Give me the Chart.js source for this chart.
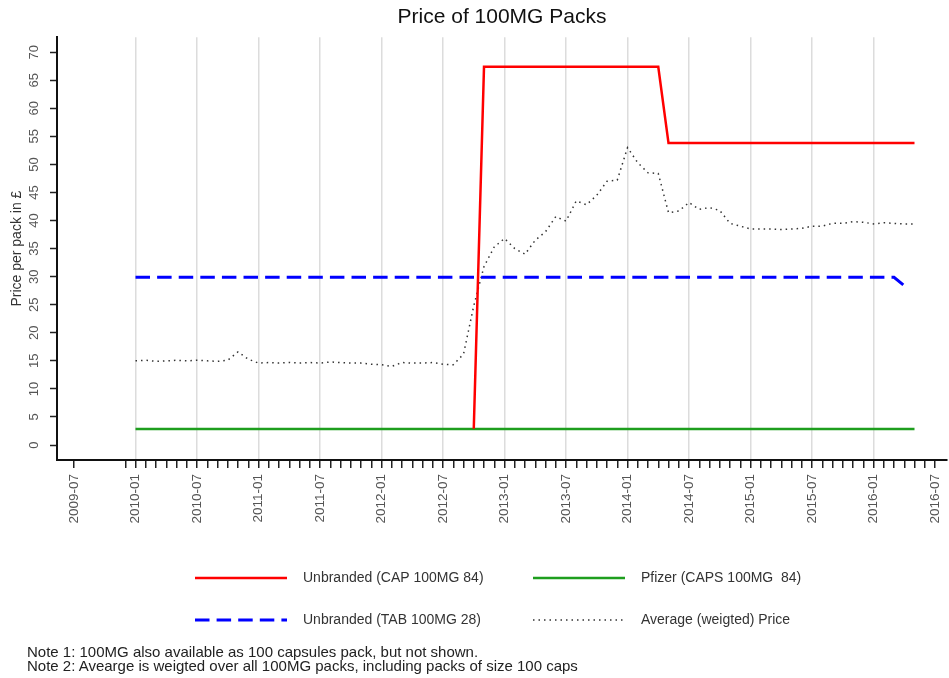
<!DOCTYPE html>
<html>
<head>
<meta charset="utf-8">
<script src="https://cdn.jsdelivr.net/npm/chart.js@4.4.1/dist/chart.umd.min.js"></script>
<style>
  body { margin: 0; background: #fff; }
  #wrap { position: relative; width: 949px; height: 678px; }
  .note { position: absolute; left: 27px; font: 15px "Liberation Sans", Arial, sans-serif; color: #222; white-space: pre; line-height: 14px; }
</style>
</head>
<body>
<div id="wrap">
  <canvas id="priceChart" width="949" height="678"></canvas>
  <div class="note" style="top:645px">Note 1: 100MG also available as 100 capsules pack, but not shown.</div>
  <div class="note" style="top:659px">Note 2: Avearge is weigted over all 100MG packs, including packs of size 100 caps</div>
</div>
<script>
// monthly observations, 2010-01 .. 2016-05
const months = [
  '2010-01','2010-02','2010-03','2010-04','2010-05','2010-06','2010-07','2010-08','2010-09','2010-10','2010-11','2010-12',
  '2011-01','2011-02','2011-03','2011-04','2011-05','2011-06','2011-07','2011-08','2011-09','2011-10','2011-11','2011-12',
  '2012-01','2012-02','2012-03','2012-04','2012-05','2012-06','2012-07','2012-08','2012-09','2012-10','2012-11','2012-12',
  '2013-01','2013-02','2013-03','2013-04','2013-05','2013-06','2013-07','2013-08','2013-09','2013-10','2013-11','2013-12',
  '2014-01','2014-02','2014-03','2014-04','2014-05','2014-06','2014-07','2014-08','2014-09','2014-10','2014-11','2014-12',
  '2015-01','2015-02','2015-03','2015-04','2015-05','2015-06','2015-07','2015-08','2015-09','2015-10','2015-11','2015-12',
  '2016-01','2016-02','2016-03','2016-04','2016-05'
];

const capUnbranded = [
  null, null, null, null, null, null, null, null, null, null, null, null,
  null, null, null, null, null, null, null, null, null, null, null, null,
  null, null, null, null, null, null, null, null, null, 2.9, 67.4, 67.4,
  67.4, 67.4, 67.4, 67.4, 67.4, 67.4, 67.4, 67.4, 67.4, 67.4, 67.4, 67.4,
  67.4, 67.4, 67.4, 67.4, 53.8, 53.8, 53.8, 53.8, 53.8, 53.8, 53.8, 53.8,
  53.8, 53.8, 53.8, 53.8, 53.8, 53.8, 53.8, 53.8, 53.8, 53.8, 53.8, 53.8,
  53.8, 53.8, 53.8, 53.8, 53.8
];

const capsPfizer = [
  2.85, 2.85, 2.85, 2.85, 2.85, 2.85, 2.85, 2.85, 2.85, 2.85, 2.85, 2.85,
  2.85, 2.85, 2.85, 2.85, 2.85, 2.85, 2.85, 2.85, 2.85, 2.85, 2.85, 2.85,
  2.85, 2.85, 2.85, 2.85, 2.85, 2.85, 2.85, 2.85, 2.85, 2.85, 2.85, 2.85,
  2.85, 2.85, 2.85, 2.85, 2.85, 2.85, 2.85, 2.85, 2.85, 2.85, 2.85, 2.85,
  2.85, 2.85, 2.85, 2.85, 2.85, 2.85, 2.85, 2.85, 2.85, 2.85, 2.85, 2.85,
  2.85, 2.85, 2.85, 2.85, 2.85, 2.85, 2.85, 2.85, 2.85, 2.85, 2.85, 2.85,
  2.85, 2.85, 2.85, 2.85, 2.85
];

const tabUnbranded = [
  29.9, 29.9, 29.9, 29.9, 29.9, 29.9, 29.9, 29.9, 29.9, 29.9, 29.9, 29.9,
  29.9, 29.9, 29.9, 29.9, 29.9, 29.9, 29.9, 29.9, 29.9, 29.9, 29.9, 29.9,
  29.9, 29.9, 29.9, 29.9, 29.9, 29.9, 29.9, 29.9, 29.9, 29.9, 29.9, 29.9,
  29.9, 29.9, 29.9, 29.9, 29.9, 29.9, 29.9, 29.9, 29.9, 29.9, 29.9, 29.9,
  29.9, 29.9, 29.9, 29.9, 29.9, 29.9, 29.9, 29.9, 29.9, 29.9, 29.9, 29.9,
  29.9, 29.9, 29.9, 29.9, 29.9, 29.9, 29.9, 29.9, 29.9, 29.9, 29.9, 29.9,
  29.9, 29.9, 29.9, 28.4, null
];

const avgWeighted = [
  15.0, 15.1, 14.9, 15.0, 15.1, 15.0, 15.1, 15.0, 14.9, 15.1, 16.6, 15.3,
  14.6, 14.7, 14.6, 14.7, 14.6, 14.7, 14.6, 14.8, 14.7, 14.6, 14.6, 14.4,
  14.3, 14.0, 14.7, 14.6, 14.6, 14.7, 14.4, 14.3, 16.2, 24.8, 31.8, 35.3,
  36.8, 35.0, 34.0, 36.5, 38.0, 40.7, 39.9, 43.5, 42.8, 44.5, 47.0, 47.2,
  53.0, 50.3, 48.5, 48.4, 41.4, 41.7, 43.2, 42.0, 42.3, 41.8, 39.5, 39.0,
  38.5, 38.5, 38.5, 38.4, 38.5, 38.6, 39.0, 39.0, 39.5, 39.5, 39.8, 39.7,
  39.4, 39.6, 39.5, 39.4, 39.4
];

const xTickLabels = ['2009-07','2010-01','2010-07','2011-01','2011-07','2012-01','2012-07',
  '2013-01','2013-07','2014-01','2014-07','2015-01','2015-07','2016-01','2016-07'];
const yTicks = [0, 5, 10, 15, 20, 25, 30, 35, 40, 45, 50, 55, 60, 65, 70];

// months counted from 2009-07
function monthIndex(s) {
  const [y, m] = s.split('-').map(Number);
  return (y - 2009) * 12 + (m - 7);
}
function points(values) {
  return values.map((v, i) => ({ x: monthIndex(months[i]), y: v }));
}

const labelIdx = xTickLabels.map(monthIndex);
const tickMarks = [0];
for (let m = 5; m <= 84; m++) tickMarks.push(m);

const FONT = '"Liberation Sans", Arial, sans-serif';
Chart.defaults.font.family = FONT;

const legendRows = {
  id: 'legendRows',
  afterDraw(chart) {
    const ctx = chart.ctx;
    const spots = [[195, 578], [533, 578], [195, 620], [533, 620]];
    chart.data.datasets.forEach((ds, i) => {
      const [x, y] = spots[i];
      ctx.save();
      ctx.strokeStyle = ds.borderColor;
      ctx.lineWidth = ds.borderWidth;
      ctx.setLineDash(ds.borderDash || []);
      ctx.beginPath();
      ctx.moveTo(x, y);
      ctx.lineTo(x + 92, y);
      ctx.stroke();
      ctx.setLineDash([]);
      ctx.fillStyle = '#333';
      ctx.font = '14px ' + FONT;
      ctx.textBaseline = 'middle';
      ctx.fillText(ds.label, x + 108, y);
      ctx.restore();
    });
  }
};

const ctx = document.getElementById('priceChart').getContext('2d');
const chart = new Chart(ctx, {
  type: 'line',
  data: {
    datasets: [
      { label: 'Unbranded (CAP 100MG 84)', data: points(capUnbranded), borderColor: '#ff0000', borderWidth: 2.5 },
      { label: 'Pfizer (CAPS 100MG  84)', data: points(capsPfizer), borderColor: '#1e9e1e', borderWidth: 2.5 },
      { label: 'Unbranded (TAB 100MG 28)', data: points(tabUnbranded), borderColor: '#0000ff', borderWidth: 3, borderDash: [14.5, 7.1] },
      { label: 'Average (weigted) Price', data: points(avgWeighted), borderColor: '#333333', borderWidth: 1.5, borderDash: [1.5, 4] }
    ]
  },
  options: {
    responsive: false,
    animation: false,
    elements: { point: { radius: 0 }, line: { tension: 0 } },
    layout: { padding: { left: 0, right: 2, top: 0, bottom: 0 } },
    plugins: {
      legend: { display: false },
      tooltip: { enabled: false },
      title: {
        display: true,
        text: 'Price of 100MG Packs',
        fullSize: false,
        color: '#111',
        font: { size: 21, weight: 'normal' },
        padding: { top: 5, bottom: 7 }
      }
    },
    scales: {
      x: {
        type: 'linear',
        min: -1.66,
        max: 85.17,
        afterBuildTicks: s => { s.ticks = tickMarks.map(v => ({ value: v })); },
        afterFit: s => { s.height = 218; s.paddingLeft = 0; s.paddingRight = 0; },
        ticks: {
          autoSkip: false,
          minRotation: 90,
          maxRotation: 90,
          padding: 6,
          color: '#555',
          font: { size: 13.5 },
          callback: v => {
            const k = labelIdx.indexOf(v);
            return k >= 0 ? xTickLabels[k] : '';
          }
        },
        grid: {
          color: c => (c.tick && c.tick.value % 6 === 0 && c.tick.value >= 6 && c.tick.value <= 78) ? '#dcdcdc' : 'rgba(0,0,0,0)',
          lineWidth: 1.5,
          tickColor: '#222',
          tickLength: 8,
          tickWidth: 1.5
        },
        border: { color: '#111', width: 2 }
      },
      y: {
        min: -2.67,
        max: 72.67,
        afterBuildTicks: s => { s.ticks = yTicks.map(v => ({ value: v })); },
        afterFit: s => { s.width = 57; s.paddingTop = 0; s.paddingBottom = 0; },
        ticks: {
          minRotation: 90,
          maxRotation: 90,
          crossAlign: 'center',
          padding: 8,
          color: '#555',
          font: { size: 13 }
        },
        grid: { drawOnChartArea: false, tickColor: '#222', tickLength: 7, tickWidth: 1.5 },
        border: { color: '#111', width: 2 },
        title: {
          display: true,
          text: 'Price per pack in £',
          color: '#333',
          font: { size: 14 },
          padding: { top: 9, bottom: 0 }
        }
      }
    }
  },
  plugins: [legendRows]
});
</script>
</body>
</html>
